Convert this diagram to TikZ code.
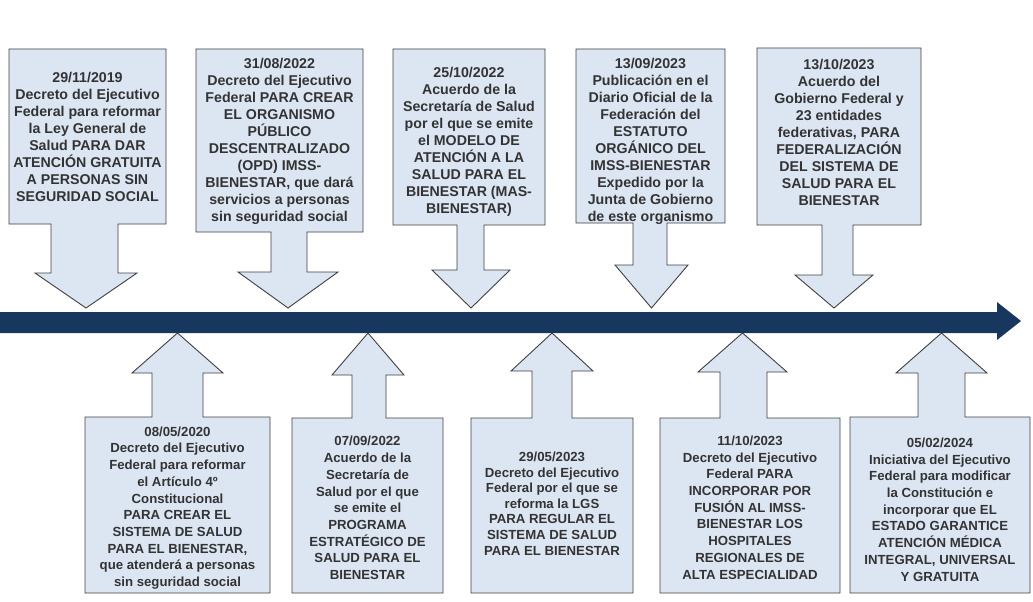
\documentclass[tikz,border=0pt]{standalone}
\usepackage{fontspec}
\setmainfont{Liberation Sans}
\definecolor{boxfill}{HTML}{DCE6F2}
\definecolor{boxline}{HTML}{404040}
\definecolor{navy}{HTML}{17375E}
\definecolor{txtc}{HTML}{333333}
\begin{document}
\begin{tikzpicture}[x=1pt,y=-1pt,
  callout/.style={fill=boxfill,draw=boxline,line width=0.9pt,line join=miter},
  toptxt/.style={align=center,inner sep=0pt,text=txtc,font=\fontsize{14.2}{17}\selectfont\bfseries},
  bottxt/.style={align=center,inner sep=0pt,text=txtc,font=\fontsize{13.2}{16.7}\selectfont\bfseries}]
\useasboundingbox (0,0) rectangle (1033,602);
% top callouts: l,t,r,b, sl,sr, hl,hr, ht
\newcommand\topcall[9]{\draw[callout] (#1,#2) -- (#3,#2) -- (#3,#4) -- (#6,#4) -- (#6,#9) -- (#8,#9) -- ({(#7+#8)/2},308) -- (#7,#9) -- (#5,#9) -- (#5,#4) -- (#1,#4) -- cycle;}
\newcommand\botcall[9]{\draw[callout] (#1,#2) -- (#1,593) -- (#3,593) -- (#3,#2) -- (#6,#2) -- (#6,#9) -- (#8,#9) -- ({(#7+#8)/2},333) -- (#7,#9) -- (#5,#9) -- (#5,#2) -- cycle;}
\topcall{9}{49}{166}{224}{51}{118}{35}{137}{273}
\topcall{196}{49}{363}{232}{271}{307}{238}{338}{272}
\topcall{393}{49}{545}{225}{457}{484}{432}{510}{270}
\topcall{576}{49}{725}{223}{633}{667}{615}{688}{265}
\topcall{757}{48}{921}{225}{822}{853}{795}{873}{275}
\botcall{85}{417}{270}{}{152}{203}{132}{223}{373}
\botcall{292}{418}{443}{}{352}{386}{332}{404}{375}
\botcall{471}{418}{633}{}{532}{572}{511}{593}{371}
\botcall{660}{418}{840}{}{720}{767}{698}{787}{372}
\botcall{850}{417}{1030}{}{918}{965}{896}{987}{373}
% timeline
\fill[navy] (0,312) -- (997,312) -- (997,302) -- (1021,321) -- (997,340) -- (997,333) -- (0,333) -- cycle;
% texts
\node[toptxt] (t1) at (87.5,136.5) {29/11/2019\\Decreto del Ejecutivo\\Federal para reformar\\la Ley General de\\Salud PARA DAR\\ATENCIÓN GRATUITA\\A PERSONAS SIN\\SEGURIDAD SOCIAL};
\node[toptxt] (t2) at (279.5,141.5) {31/08/2022\\Decreto del Ejecutivo\\Federal PARA CREAR\\EL ORGANISMO\\PÚBLICO\\DESCENTRALIZADO\\(OPD) IMSS-\\BIENESTAR, que dará\\servicios a personas\\sin seguridad social};
\node[toptxt] (t3) at (469,141.5) {25/10/2022\\Acuerdo de la\\Secretaría de Salud\\por el que se emite\\el MODELO DE\\ATENCIÓN A LA\\SALUD PARA EL\\BIENESTAR (MAS-\\BIENESTAR)};
\node[toptxt] (t4) at (650.5,141.5) {13/09/2023\\Publicación en el\\Diario Oficial de la\\Federación del\\ESTATUTO\\ORGÁNICO DEL\\IMSS-BIENESTAR\\Expedido por la\\Junta de Gobierno\\de este organismo};
\node[toptxt] (t5) at (839,132.5) {13/10/2023\\Acuerdo del\\Gobierno Federal y\\23 entidades\\federativas, PARA\\FEDERALIZACIÓN\\DEL SISTEMA DE\\SALUD PARA EL\\BIENESTAR};
\node[bottxt] (b1) at (177.5,508) {08/05/2020\\Decreto del Ejecutivo\\Federal para reformar\\el Artículo 4º\\Constitucional\\PARA CREAR EL\\SISTEMA DE SALUD\\PARA EL BIENESTAR,\\que atenderá a personas\\sin seguridad social};
\node[bottxt] (b2) at (367.5,508) {07/09/2022\\Acuerdo de la\\Secretaría de\\Salud por el que\\se emite el\\PROGRAMA\\ESTRATÉGICO DE\\SALUD PARA EL\\BIENESTAR};
\node[bottxt,font=\fontsize{13.2}{15.6}\selectfont\bfseries] (b3) at (552,503.5) {29/05/2023\\Decreto del Ejecutivo\\Federal por el que se\\reforma la LGS\\PARA REGULAR EL\\SISTEMA DE SALUD\\PARA EL BIENESTAR};
\node[bottxt] (b4) at (750,507.5) {11/10/2023\\Decreto del Ejecutivo\\Federal PARA\\INCORPORAR POR\\FUSIÓN AL IMSS-\\BIENESTAR LOS\\HOSPITALES\\REGIONALES DE\\ALTA ESPECIALIDAD};
\node[bottxt] (b5) at (940,509.5) {05/02/2024\\Iniciativa del Ejecutivo\\Federal para modificar\\la Constitución e\\incorporar que EL\\ESTADO GARANTICE\\ATENCIÓN MÉDICA\\INTEGRAL, UNIVERSAL\\Y GRATUITA};
\end{tikzpicture}
\end{document}
